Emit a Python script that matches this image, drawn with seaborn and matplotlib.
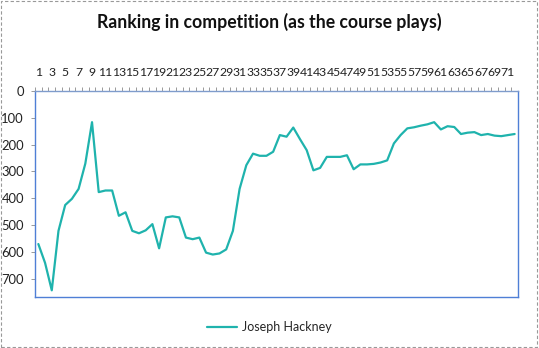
import matplotlib
matplotlib.use("Agg")
import matplotlib.pyplot as plt
import seaborn as sns
import pandas as pd
from matplotlib.patches import Rectangle

holes = list(range(1, 73))
ranking = [570, 640, 742, 521, 425, 402, 365, 271, 117, 377,
           371, 371, 465, 452, 521, 530, 519, 496, 586, 471,
           467, 471, 546, 552, 546, 602, 609, 605, 590, 521,
           365, 277, 234, 242, 242, 227, 165, 171, 137, 180,
           221, 296, 287, 246, 246, 246, 240, 292, 274, 274,
           272, 267, 259, 196, 165, 140, 136, 130, 125, 117,
           144, 132, 135, 161, 156, 154, 165, 161, 167, 169,
           165, 161]
series_name = "Joseph Hackney"
title = "Ranking in competition (as the course plays)"
ytick_vals = [0, 100, 200, 300, 400, 500, 600, 700]
xtick_vals = list(range(1, 72, 2))

df = pd.DataFrame({"hole": holes, "rank": ranking, "player": series_name})

sns.set_style("white")
plt.rcParams["font.family"] = ["Lato", "DejaVu Sans"]

fig = plt.figure(figsize=(5.39, 3.48), dpi=100)
ax = fig.add_axes([35/539, 1-297.3/348, (518-35)/539, (297.3-90.7)/348])

sns.lineplot(data=df, x="hole", y="rank", hue="player", palette=["#1fb3ad"],
             linewidth=1.6, ax=ax, legend=True)

ax.set_xlim(0.5, 72.5)
ax.set_ylim(768, 0)
ax.set_xlabel("")
ax.set_ylabel("")
ax.xaxis.tick_top()
ax.set_xticks(xtick_vals)
ax.set_xticklabels([str(v) for v in xtick_vals], fontsize=8.8, color="#222222")
ax.set_xticks([h + 0.5 for h in range(0, 72)], minor=True)
ax.tick_params(axis="x", which="major", length=0, pad=9)
ax.tick_params(axis="x", which="minor", length=3, color="#999999", width=0.7, direction="out", top=True, bottom=False)
ax.set_yticks(ytick_vals)
ax.set_yticklabels([str(v) for v in ytick_vals], fontsize=9.4, color="#222222")
ax.tick_params(axis="y", which="major", length=3, color="#999999", width=0.7, direction="out", left=True, pad=5)
for s in ax.spines.values():
    s.set_visible(True)
    s.set_color("#4f7fd6")
    s.set_linewidth(1.0)
ax.spines["top"].set_color("#7f9ccc")

leg = ax.get_legend()
handles, labels = ax.get_legend_handles_labels()
leg.remove()
fig.legend(handles, labels, loc="center", bbox_to_anchor=(0.5, 1-327/348), frameon=False,
           fontsize=9, handlelength=2.4, handletextpad=0.4)

fig.text(0.5, 1-22/348, title, ha="center", va="center", fontsize=12.7, fontweight="bold", color="#111111")

fig.patches.append(Rectangle((0.002, 0.003), 0.994, 0.994, transform=fig.transFigure,
                             fill=False, edgecolor="#999999", linestyle=(0, (3, 2)), linewidth=0.8))

fig.savefig("out.png", dpi=100)
